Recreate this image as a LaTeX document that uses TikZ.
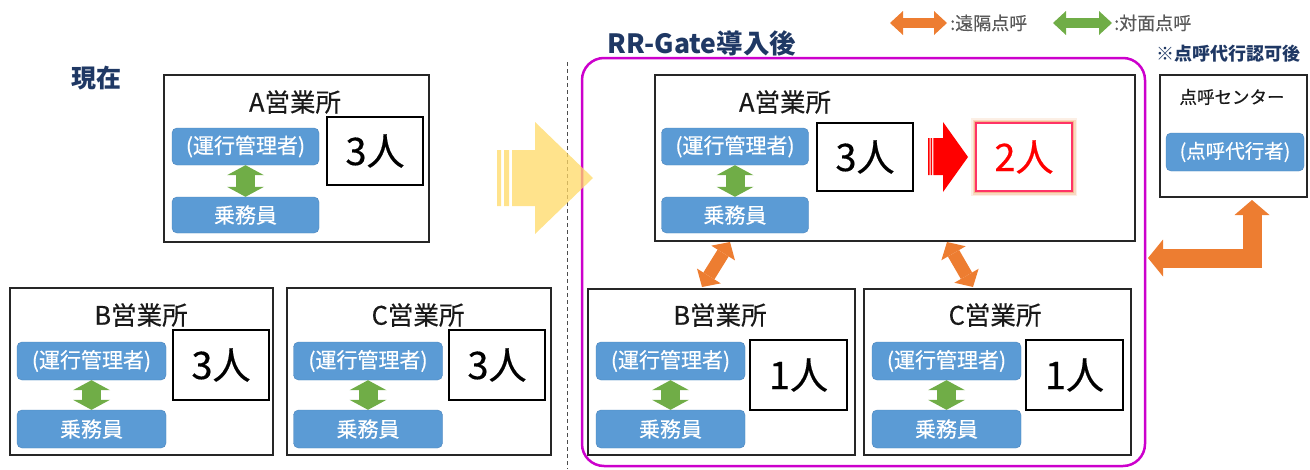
\documentclass[tikz,border=0pt]{standalone}
\usepackage{fontspec}
\setmainfont{Noto Sans CJK JP}[FakeBold=0.4]
\newfontfamily\headfont{Noto Sans CJK JP}
\usetikzlibrary{arrows.meta}
\definecolor{bluefill}{HTML}{5B9BD5}
\definecolor{blueline}{HTML}{4A84BC}
\definecolor{grn}{HTML}{70AD47}
\definecolor{org}{HTML}{ED7D31}
\definecolor{navy}{HTML}{1F3864}
\definecolor{mag}{HTML}{CC00CC}
\definecolor{ylw}{HTML}{FFD966}
\definecolor{pinkb}{HTML}{FF3366}
\newcommand{\fsz}[1]{\fontsize{#1}{#1}\selectfont}
\begin{document}
\begin{tikzpicture}[x=1pt,y=-1pt,
  office/.style={draw=black!85,line width=1.2pt,fill=white,inner sep=0pt},
  otitle/.style={font=\fsz{25.5},text=black!90,inner sep=0pt},
  role/.style={draw=blueline,fill=bluefill,rounded corners=5pt,text=white,font=\fsz{21},inner sep=0pt,minimum width=147pt,minimum height=37pt},
  count/.style={draw=black,line width=2pt,fill=white,font=\fsz{38},inner sep=0pt,minimum width=96pt,minimum height=68pt},
  face/.style={draw=grn,line width=19pt,{Triangle[length=10pt,width=37pt,line width=0pt]}-{Triangle[length=10pt,width=37pt,line width=0pt]}},
  remote/.style={draw=org,line width=13pt,{Triangle[length=13pt,width=28pt,line width=0pt]}-{Triangle[length=13pt,width=28pt,line width=0pt]}},
  head/.style={font=\headfont\bfseries\fsz{25},text=navy,inner sep=0pt}
]
\useasboundingbox (0,0) rectangle (1310,469);

% separators
\draw[black!70,line width=1pt,dash pattern=on 4pt off 3pt] (567,62) -- (567,469);
\draw[mag,line width=2.5pt,rounded corners=22pt] (582,58) rectangle (1145,466);

% headings
\node[head] (now) at (96,78) {現在};
\node[head,font=\headfont\bfseries\fsz{26.5}] (after) at (702,43) {RR-Gate導入後};
\node[head,font=\headfont\bfseries\fsz{18}] (cond) at (1228,54) {※点呼代行認可後};

% legend
\coordinate (lg1a) at (890,23); \coordinate (lg1b) at (947,23);
\coordinate (lg2a) at (1053,23); \coordinate (lg2b) at (1112,23);
\draw[draw=org,line width=10pt,{Triangle[length=13pt,width=24pt,line width=0pt]}-{Triangle[length=13pt,width=24pt,line width=0pt]}] (lg1a) -- (lg1b);
\draw[draw=grn,line width=10pt,{Triangle[length=13pt,width=24pt,line width=0pt]}-{Triangle[length=13pt,width=24pt,line width=0pt]}] (lg2a) -- (lg2b);
\node[anchor=west,font=\fsz{18},text=black!65,inner sep=0pt] (lgt1) at (950,23) {:遠隔点呼};
\node[anchor=west,font=\fsz{18},text=black!65,inner sep=0pt] (lgt2) at (1114,23) {:対面点呼};

% ---- left: current
\node[office,minimum width=265pt,minimum height=167pt] (LA) at (296.5,158.5) {};
\node[otitle] (LAt) at (295,102) {A営業所};
\node[role] (LAm) at (245.5,146.5) {(運行管理者)};
\node[role,minimum height=36pt] (LAc) at (245.5,215) {乗務員};
\node[count] (LAn) at (375,151) {3人};
\draw[face] (LAm.south) -- (LAc.north);

\node[office,minimum width=263pt,minimum height=167pt] (LB) at (141.5,371.5) {};
\node[otitle] (LBt) at (141,315) {B営業所};
\node[role,minimum width=149pt,minimum height=38pt] (LBm) at (91.5,361) {(運行管理者)};
\node[role,minimum width=149pt,minimum height=38pt] (LBc) at (91.5,429) {乗務員};
\node[count,minimum height=70pt] (LBn) at (221,365) {3人};
\draw[face] (LBm.south) -- (LBc.north);

\node[office,minimum width=264pt,minimum height=167pt] (LC) at (419,371.5) {};
\node[otitle] (LCt) at (418,315) {C営業所};
\node[role,minimum width=149pt,minimum height=38pt] (LCm) at (368,361) {(運行管理者)};
\node[role,minimum width=149pt,minimum height=38pt] (LCc) at (368,429) {乗務員};
\node[count,minimum height=70pt] (LCn) at (497,365) {3人};
\draw[face] (LCm.south) -- (LCc.north);

% ---- transition arrow (yellow)
\fill[ylw,opacity=0.75] (497,150) rectangle (501,206) (504,150) rectangle (509,206)
  (512,150) -- (535,150) -- (535,122) -- (593,178) -- (535,234) -- (535,206) -- (512,206) -- cycle;

% ---- right: after
\node[office,minimum width=480pt,minimum height=166pt] (RA) at (895,158) {};
\node[otitle] (RAt) at (785,102) {A営業所};
\node[role] (RAm) at (735,146.5) {(運行管理者)};
\node[role,minimum height=36pt] (RAc) at (735,215) {乗務員};
\node[count] (RAn) at (865,157) {3人};
\draw[face] (RAm.south) -- (RAc.north);

\fill[red] (928,138) rectangle (929.5,175) (930.7,138) rectangle (932.2,175)
  (933.4,138) -- (943,138) -- (943,122) -- (968,157) -- (943,192) -- (943,175) -- (933.4,175) -- cycle;
\foreach \w/\o in {10/0.12,7/0.2,4.5/0.35}
  \draw[org,line width=\w pt,opacity=\o] (976,123) rectangle (1072,191);
\node[count,draw=pinkb,line width=1.8pt,text=red] (RAn2) at (1024,157) {2人};

\node[office,minimum width=267pt,minimum height=166pt] (RB) at (721.5,372) {};
\node[otitle] (RBt) at (720,315) {B営業所};
\node[role,minimum width=149pt,minimum height=38pt] (RBm) at (670.5,361) {(運行管理者)};
\node[role,minimum width=149pt,minimum height=38pt] (RBc) at (670.5,429) {乗務員};
\node[count,minimum width=97pt,minimum height=70pt] (RBn) at (798.5,375) {1人};
\draw[face] (RBm.south) -- (RBc.north);

\node[office,minimum width=267pt,minimum height=166pt] (RC) at (997.5,372) {};
\node[otitle] (RCt) at (995,315) {C営業所};
\node[role,minimum width=149pt,minimum height=38pt] (RCm) at (946.5,361) {(運行管理者)};
\node[role,minimum width=149pt,minimum height=38pt] (RCc) at (946.5,429) {乗務員};
\node[count,minimum width=97pt,minimum height=70pt] (RCn) at (1074.5,375) {1人};
\draw[face] (RCm.south) -- (RCc.north);

% remote links A-B, A-C
\coordinate (ab1) at (730,242); \coordinate (ab2) at (702,287);
\coordinate (ac1) at (947,242); \coordinate (ac2) at (973,287);
\draw[remote] (ab1) -- (ab2);
\draw[remote] (ac1) -- (ac2);

% ---- call center
\node[office,minimum width=147pt,minimum height=122pt] (PC) at (1233.5,136) {};
\node[otitle,font=\fsz{17.5}] (PCt) at (1232,97) {点呼センター};
\node[role,minimum width=138pt,minimum height=38pt,font=\fsz{19.5}] (PCr) at (1235,152) {(点呼代行者)};
\coordinate (pc1) at (1252,200);
\coordinate (pc2) at (1252,258);
\coordinate (pc3) at (1148,258);
\draw[draw=org,line width=19pt,line join=miter,{Triangle[length=15pt,width=35pt,line width=0pt]}-{Triangle[length=15pt,width=37pt,line width=0pt]}] (pc1) -- (pc2) -- (pc3);
\end{tikzpicture}
\end{document}
